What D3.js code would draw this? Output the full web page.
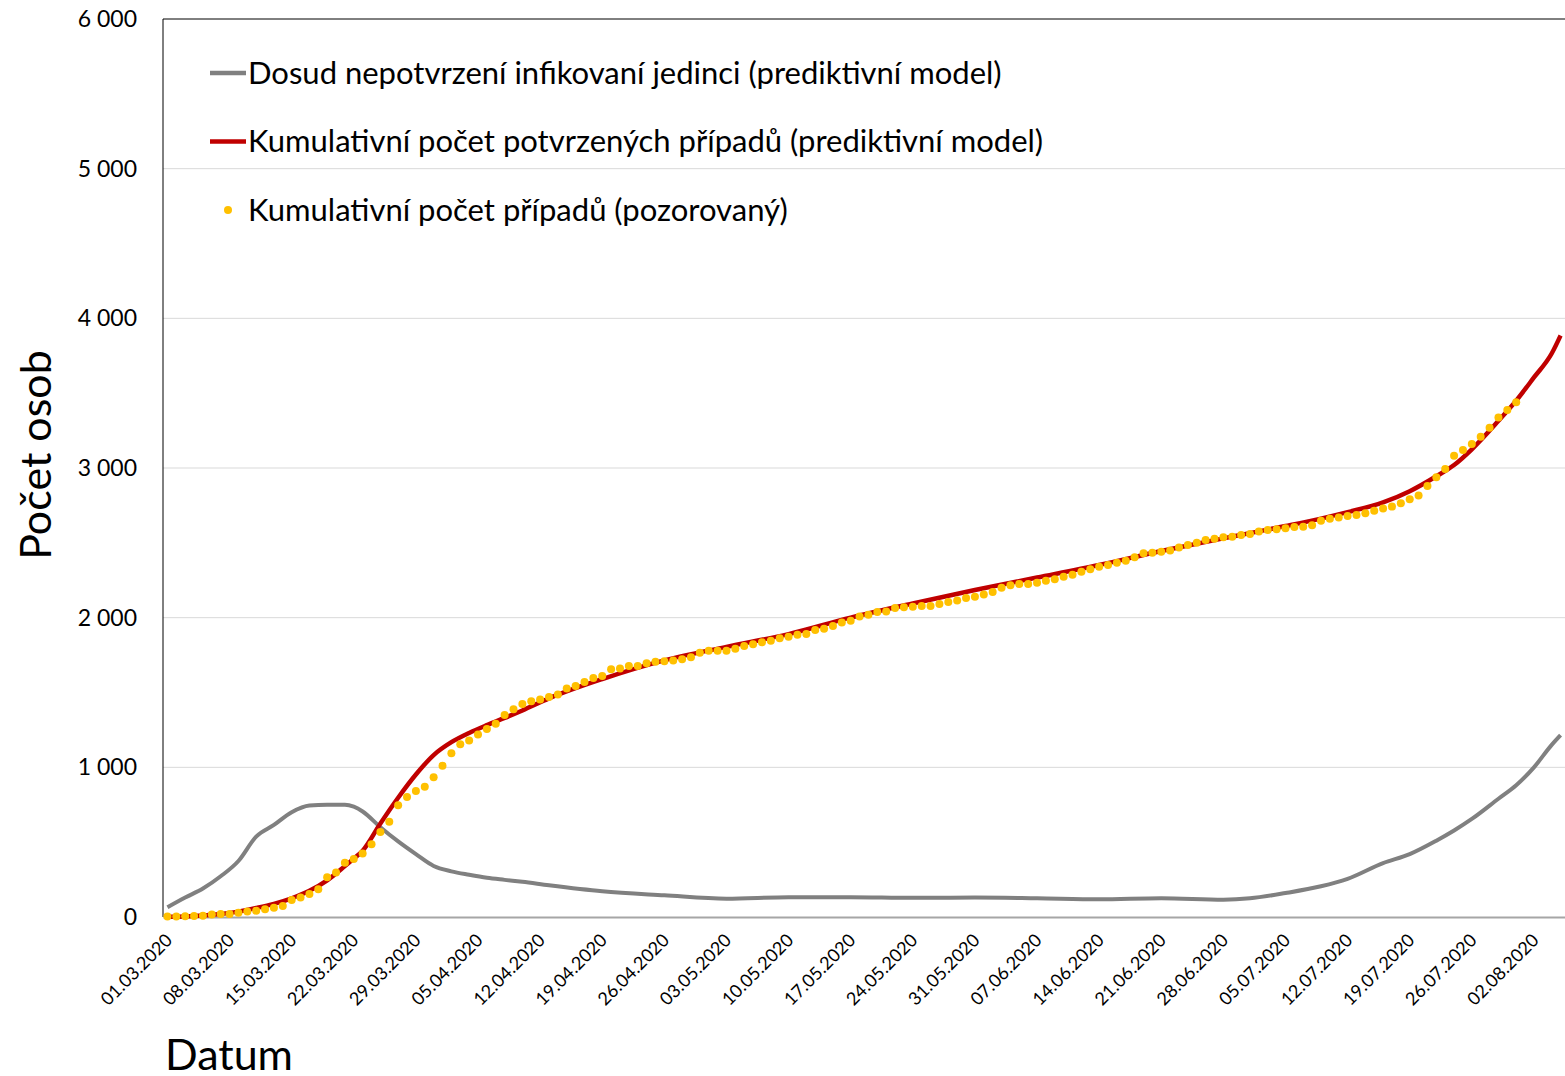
<!DOCTYPE html>
<html>
<head>
    <meta charset="utf-8">
    <script src="https://d3js.org/d3.v7.min.js"></script>
    <title>Počet osob</title>
    <style>
        body {
            margin: 0px;
            background: #fff;
        }

        text {
            font-family: Lato, "Open Sans", sans-serif;
            fill: #000;
        }

        .tick text {
            font-size: 18px;
        }

        .y-tick {
            font-size: 23px;
        }

        .axis-label {
            font-size: 43px;
        }

        .legend-text {
            font-size: 31px;
        }
    </style>
</head>
<body>
    <svg width="1565" height="1076"></svg>
    <script>
        // Daily observed cumulative cases, from 01.03.2020 onwards
        const observed = [
            3, 3, 5, 6, 9, 16, 20, 20, 29, 36,
            42, 51, 62, 73, 114, 131, 154, 185, 265, 298,
            363, 388, 425, 486, 568, 637, 746, 802, 842, 871,
            933, 1011, 1094, 1154, 1180, 1220, 1256, 1292, 1350, 1388,
            1423, 1441, 1454, 1470, 1486, 1526, 1543, 1570, 1597, 1610,
            1655, 1661, 1677, 1677, 1695, 1706, 1708, 1713, 1722, 1735,
            1766, 1779, 1779, 1779, 1793, 1811, 1822, 1835, 1846, 1862,
            1873, 1886, 1891, 1918, 1926, 1944, 1967, 1980, 2007, 2020,
            2038, 2042, 2065, 2069, 2073, 2078, 2078, 2091, 2105, 2114,
            2131, 2140, 2154, 2171, 2200, 2216, 2225, 2225, 2234, 2247,
            2256, 2274, 2287, 2307, 2323, 2341, 2352, 2367, 2381, 2403,
            2430, 2434, 2441, 2448, 2468, 2485, 2501, 2519, 2528, 2537,
            2541, 2552, 2559, 2575, 2586, 2590, 2597, 2606, 2608, 2617,
            2648, 2661, 2670, 2679, 2686, 2697, 2715, 2730, 2742, 2764,
            2791, 2817, 2880, 2938, 2993, 3082, 3120, 3160, 3209, 3269,
            3338, 3387, 3439
        ];

        // Model curves, read at these dates
        const modelDates = [
            '01.03.2020', '03.03.2020', '05.03.2020', '07.03.2020', '09.03.2020',
            '11.03.2020', '13.03.2020', '15.03.2020', '17.03.2020', '19.03.2020',
            '21.03.2020', '22.03.2020', '23.03.2020', '25.03.2020', '27.03.2020',
            '29.03.2020', '31.03.2020', '02.04.2020', '04.04.2020', '06.04.2020',
            '08.04.2020', '10.04.2020', '13.04.2020', '19.04.2020', '26.04.2020',
            '03.05.2020', '10.05.2020', '17.05.2020', '24.05.2020', '31.05.2020',
            '07.06.2020', '14.06.2020', '21.06.2020', '28.06.2020', '01.07.2020',
            '05.07.2020', '09.07.2020', '12.07.2020', '16.07.2020', '19.07.2020',
            '22.07.2020', '24.07.2020', '26.07.2020', '29.07.2020', '31.07.2020',
            '02.08.2020', '04.08.2020', '05.08.2020'
        ];
        const modelUnconfirmed = [
            65, 130, 190, 272, 374,
            537, 615, 700, 745, 750,
            750, 737, 705, 600, 505,
            420, 341, 305, 282, 262,
            248, 235, 212, 172, 145,
            122, 132, 132, 128, 130,
            125, 118, 125, 116, 125,
            160, 205, 255, 360, 420,
            510, 578, 655, 790, 880,
            1000, 1150, 1215
        ];
        const modelConfirmed = [
            2, 4, 10, 20, 36,
            60, 88, 125, 175, 245,
            340, 390, 443, 625, 797,
            952, 1082, 1168, 1230, 1282,
            1330, 1380, 1461, 1590, 1715,
            1805, 1890, 2000, 2095, 2185,
            2268, 2352, 2445, 2530, 2565,
            2612, 2662, 2705, 2770, 2845,
            2945, 3020, 3125, 3315, 3450,
            3605, 3765, 3885
        ];

        const tickLabels = [
            '01.03.2020', '08.03.2020', '15.03.2020', '22.03.2020', '29.03.2020',
            '05.04.2020', '12.04.2020', '19.04.2020', '26.04.2020', '03.05.2020',
            '10.05.2020', '17.05.2020', '24.05.2020', '31.05.2020', '07.06.2020',
            '14.06.2020', '21.06.2020', '28.06.2020', '05.07.2020', '12.07.2020',
            '19.07.2020', '26.07.2020', '02.08.2020'
        ];
        const yTicks = [0, 1000, 2000, 3000, 4000, 5000, 6000];

        const seriesNames = [
            'Dosud nepotvrzení infikovaní jedinci (prediktivní model)',
            'Kumulativní počet potvrzených případů (prediktivní model)',
            'Kumulativní počet případů (pozorovaný)'
        ];
        const colors = ['#808080', '#c00000', '#ffc000'];

        const parseDate = d3.timeParse('%d.%m.%Y');
        const firstDay = parseDate('01.03.2020');
        const lastDay = parseDate('05.08.2020');

        const margin = { left: 163, right: 0, top: 19, bottom: 159 };
        const svg = d3.select('svg');
        const width = +svg.attr('width');
        const height = +svg.attr('height');
        const innerWidth = width - margin.left - margin.right;
        const innerHeight = height - margin.top - margin.bottom;

        const g = svg.append('g')
            .attr('transform', `translate(${margin.left},${margin.top})`);

        // category axis: each day sits in the middle of its slot
        const xScale = d3.scaleTime()
            .domain([d3.timeHour.offset(firstDay, -12), d3.timeHour.offset(lastDay, 12)])
            .range([0, innerWidth]);
        const yScale = d3.scaleLinear()
            .domain([0, 6000])
            .range([innerHeight, 0]);

        const fmt = v => d3.format(',')(v).replace(/,/g, ' ');

        // gridlines
        g.append('g')
            .selectAll('line')
            .data(yTicks.filter(d => d > 0))
            .join('line')
            .attr('x1', 0)
            .attr('x2', innerWidth)
            .attr('y1', d => yScale(d))
            .attr('y2', d => yScale(d))
            .attr('stroke', d => d === 6000 ? '#000' : '#d9d9d9')
            .attr('stroke-width', 1);

        // y tick labels
        g.append('g')
            .selectAll('text')
            .data(yTicks)
            .join('text')
            .attr('class', 'y-tick')
            .attr('x', -26)
            .attr('y', d => yScale(d))
            .attr('dy', '0.35em')
            .attr('text-anchor', 'end')
            .text(fmt);

        // x axis
        const xAxis = d3.axisBottom(xScale)
            .tickValues(tickLabels.map(parseDate))
            .tickFormat(d3.timeFormat('%d.%m.%Y'))
            .tickSize(0)
            .tickPadding(0);

        const xAxisG = g.append('g')
            .attr('transform', `translate(0,${innerHeight})`)
            .call(xAxis);
        xAxisG.select('.domain')
            .attr('stroke', '#a6a6a6')
            .attr('stroke-width', 2);
        xAxisG.selectAll('.tick text')
            .attr('text-anchor', 'end')
            .attr('dy', '0.35em')
            .attr('y', 0)
            .attr('transform', 'translate(1,20) rotate(-45)');

        // left border of the plot
        g.append('line')
            .attr('x1', 0).attr('x2', 0)
            .attr('y1', 0).attr('y2', innerHeight)
            .attr('stroke', '#000')
            .attr('stroke-width', 1);

        const line = d3.line()
            .x(d => xScale(d[0]))
            .y(d => yScale(d[1]))
            .curve(d3.curveMonotoneX);

        const modelX = modelDates.map(parseDate);

        g.append('path')
            .datum(modelX.map((d, i) => [d, modelUnconfirmed[i]]))
            .attr('fill', 'none')
            .attr('stroke', colors[0])
            .attr('stroke-width', 4)
            .attr('d', line);

        g.append('path')
            .datum(modelX.map((d, i) => [d, modelConfirmed[i]]))
            .attr('fill', 'none')
            .attr('stroke', colors[1])
            .attr('stroke-width', 4.5)
            .attr('d', line);

        g.append('g')
            .selectAll('circle')
            .data(observed)
            .join('circle')
            .attr('cx', (d, i) => xScale(d3.timeDay.offset(firstDay, i)))
            .attr('cy', d => yScale(d))
            .attr('r', 4)
            .attr('fill', colors[2]);

        // legend
        const legend = svg.append('g')
            .attr('transform', 'translate(210,73)');
        const legendItems = legend.selectAll('g')
            .data(seriesNames)
            .join('g')
            .attr('transform', (d, i) => `translate(0,${i * 68.5})`);
        legendItems.filter((d, i) => i < 2)
            .append('line')
            .attr('x1', 0).attr('x2', 36)
            .attr('stroke', (d, i) => colors[i])
            .attr('stroke-width', 4.5);
        legendItems.filter((d, i) => i === 2)
            .append('circle')
            .attr('cx', 18)
            .attr('r', 4)
            .attr('fill', colors[2]);
        legendItems.append('text')
            .attr('class', 'legend-text')
            .attr('x', 38)
            .attr('dy', '0.35em')
            .text(d => d);

        // axis titles
        svg.append('text')
            .attr('class', 'axis-label')
            .attr('transform', 'translate(36,455) rotate(-90)')
            .attr('text-anchor', 'middle')
            .attr('dy', '0.35em')
            .text('Počet osob');

        svg.append('text')
            .attr('class', 'axis-label')
            .attr('x', 165)
            .attr('y', 1070)
            .text('Datum');
    </script>
</body>
</html>
